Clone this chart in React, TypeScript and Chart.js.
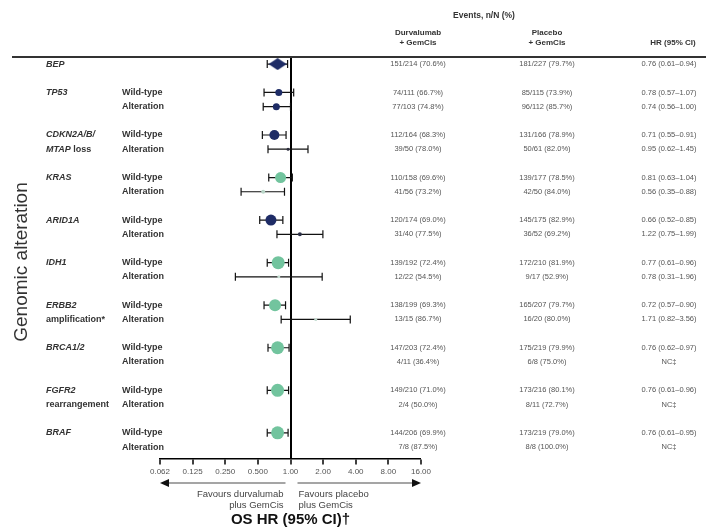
import React, { useEffect, useRef } from "react";
import { Chart, registerables } from "chart.js";
Chart.register(...registerables);

// ---------------- data ----------------
const geneNames = ["BEP", "TP53", "CDKN2A/B/", "KRAS", "ARID1A", "IDH1", "ERBB2", "BRCA1/2", "FGFR2", "BRAF"];
const geneSecondItalic = ["", "", "MTAP", "", "", "", "", "", "", ""];
const geneSecondPlain = ["", "", " loss", "", "", "", "amplification*", "", "rearrangement", ""];
const subgroupLabels = ["Wild-type", "Alteration"];

const hrValues = [0.76, 0.78, 0.74, 0.71, 0.95, 0.81, 0.56, 0.66, 1.22, 0.77, 0.78, 0.72, 1.71, 0.76, null, 0.76, null, 0.76, null];
const ciLower = [0.61, 0.57, 0.56, 0.55, 0.62, 0.63, 0.35, 0.52, 0.75, 0.61, 0.31, 0.57, 0.82, 0.62, null, 0.61, null, 0.61, null];
const ciUpper = [0.94, 1.07, 1.0, 0.91, 1.45, 1.04, 0.88, 0.85, 1.99, 0.96, 1.96, 0.9, 3.56, 0.97, null, 0.96, null, 0.95, null];

const durvaEvents = [
  "151/214 (70.6%)", "74/111 (66.7%)", "77/103 (74.8%)", "112/164 (68.3%)", "39/50 (78.0%)",
  "110/158 (69.6%)", "41/56 (73.2%)", "120/174 (69.0%)", "31/40 (77.5%)", "139/192 (72.4%)",
  "12/22 (54.5%)", "138/199 (69.3%)", "13/15 (86.7%)", "147/203 (72.4%)", "4/11 (36.4%)",
  "149/210 (71.0%)", "2/4 (50.0%)", "144/206 (69.9%)", "7/8 (87.5%)",
];
const placeboEvents = [
  "181/227 (79.7%)", "85/115 (73.9%)", "96/112 (85.7%)", "131/166 (78.9%)", "50/61 (82.0%)",
  "139/177 (78.5%)", "42/50 (84.0%)", "145/175 (82.9%)", "36/52 (69.2%)", "172/210 (81.9%)",
  "9/17 (52.9%)", "165/207 (79.7%)", "16/20 (80.0%)", "175/219 (79.9%)", "6/8 (75.0%)",
  "173/216 (80.1%)", "8/11 (72.7%)", "173/219 (79.0%)", "8/8 (100.0%)",
];
const hrLabels = [
  "0.76 (0.61–0.94)", "0.78 (0.57–1.07)", "0.74 (0.56–1.00)", "0.71 (0.55–0.91)", "0.95 (0.62–1.45)",
  "0.81 (0.63–1.04)", "0.56 (0.35–0.88)", "0.66 (0.52–0.85)", "1.22 (0.75–1.99)", "0.77 (0.61–0.96)",
  "0.78 (0.31–1.96)", "0.72 (0.57–0.90)", "1.71 (0.82–3.56)", "0.76 (0.62–0.97)", "NC‡",
  "0.76 (0.61–0.96)", "NC‡", "0.76 (0.61–0.95)", "NC‡",
];

const xTickValues = [0.0625, 0.125, 0.25, 0.5, 1, 2, 4, 8, 16];
const xTickLabels = ["0.062", "0.125", "0.250", "0.500", "1.00", "2.00", "4.00", "8.00", "16.00"];

// ---------------- styles ----------------
const NAVY = "#1e2c66";
const GREEN = "#72c49e";
const markerColors = [
  NAVY, NAVY, NAVY, NAVY, "#2a2c3c", GREEN, "#b9d6c8", NAVY, "#2b2f45", GREEN,
  "#c4dcd0", GREEN, "#c4dcd0", GREEN, GREEN, GREEN, GREEN, GREEN, GREEN,
];
const markerRadii = [8, 3.5, 3.5, 5, 1.5, 5.5, 2, 5.5, 2, 6.5, 1.5, 6, 1.5, 6.5, 0, 6.5, 0, 6.5, 0];
const FONT = "'Liberation Sans', Arial, sans-serif";

function rowSlot(i: number) {
  if (i === 0) return 0;
  const g = Math.floor((i - 1) / 2) + 1;
  return 3 * g - 1 + ((i - 1) % 2);
}
function groupSlot(g: number) {
  return g === 0 ? 0 : 3 * g - 1;
}

function makeDiamond() {
  const c = document.createElement("canvas");
  c.width = 18;
  c.height = 12;
  const x = c.getContext("2d")!;
  x.fillStyle = NAVY;
  x.beginPath();
  x.moveTo(0, 6);
  x.lineTo(9, 0);
  x.lineTo(18, 6);
  x.lineTo(9, 12);
  x.closePath();
  x.fill();
  return c;
}

const textPlugin = {
  id: "forestText",
  afterDraw(chart: any) {
    const { ctx, chartArea } = chart;
    const xs = chart.scales.x;
    const ys = chart.scales.y;
    ctx.save();
    // top rule
    ctx.strokeStyle = "#333";
    ctx.lineWidth = 2;
    ctx.beginPath();
    ctx.moveTo(12, chartArea.top);
    ctx.lineTo(706, chartArea.top);
    ctx.stroke();

    const colD = 418, colP = 547, colH = 669;
    ctx.textBaseline = "middle";
    ctx.textAlign = "center";
    ctx.fillStyle = "#333";
    ctx.font = `bold 8.5px ${FONT}`;
    ctx.fillText("Events, n/N (%)", 484, 16);
    ctx.font = `bold 8px ${FONT}`;
    ctx.fillText("Durvalumab", colD, 33);
    ctx.fillText("+ GemCis", colD, 43);
    ctx.fillText("Placebo", colP, 33);
    ctx.fillText("+ GemCis", colP, 43);
    ctx.fillText("HR (95% CI)", colH + 4, 43);

    // table rows
    ctx.font = `7.5px ${FONT}`;
    ctx.fillStyle = "#555";
    for (let i = 0; i < durvaEvents.length; i++) {
      const yy = ys.getPixelForValue(rowSlot(i));
      ctx.fillText(durvaEvents[i], colD, yy);
      ctx.fillText(placeboEvents[i], colP, yy);
      ctx.fillText(hrLabels[i], colH, yy);
    }

    // gene labels
    ctx.textAlign = "left";
    ctx.fillStyle = "#333";
    for (let g = 0; g < geneNames.length; g++) {
      const s = groupSlot(g);
      const yy = ys.getPixelForValue(s);
      ctx.font = `italic bold 9px ${FONT}`;
      ctx.fillText(geneNames[g], 46, yy);
      const y2 = ys.getPixelForValue(s + 1);
      let xx = 46;
      if (geneSecondItalic[g]) {
        ctx.font = `italic bold 9px ${FONT}`;
        ctx.fillText(geneSecondItalic[g], xx, y2);
        xx += ctx.measureText(geneSecondItalic[g]).width;
      }
      if (geneSecondPlain[g]) {
        ctx.font = `bold 9px ${FONT}`;
        ctx.fillText(geneSecondPlain[g], xx, y2);
      }
      if (g > 0) {
        ctx.font = `bold 9px ${FONT}`;
        ctx.fillText(subgroupLabels[0], 122, yy);
        ctx.fillText(subgroupLabels[1], 122, y2);
      }
    }

    // y title
    ctx.save();
    ctx.translate(22, 262);
    ctx.rotate(-Math.PI / 2);
    ctx.textAlign = "center";
    ctx.font = `19px ${FONT}`;
    ctx.fillStyle = "#333";
    ctx.fillText("Genomic alteration", 0, 0);
    ctx.restore();

    // arrows
    const x1 = xs.getPixelForValue(1);
    const ay = 483;
    ctx.strokeStyle = "#888";
    ctx.lineWidth = 1.5;
    ctx.beginPath();
    ctx.moveTo(x1 - 5, ay);
    ctx.lineTo(chartArea.left + 6, ay);
    ctx.moveTo(x1 + 7, ay);
    ctx.lineTo(chartArea.right - 6, ay);
    ctx.stroke();
    ctx.fillStyle = "#111";
    ctx.beginPath();
    ctx.moveTo(chartArea.left, ay);
    ctx.lineTo(chartArea.left + 9, ay - 4);
    ctx.lineTo(chartArea.left + 9, ay + 4);
    ctx.closePath();
    ctx.fill();
    ctx.beginPath();
    ctx.moveTo(chartArea.right, ay);
    ctx.lineTo(chartArea.right - 9, ay - 4);
    ctx.lineTo(chartArea.right - 9, ay + 4);
    ctx.closePath();
    ctx.fill();

    ctx.font = `9.5px ${FONT}`;
    ctx.fillStyle = "#444";
    ctx.textAlign = "right";
    ctx.fillText("Favours durvalumab", x1 - 7, 494);
    ctx.fillText("plus GemCis", x1 - 7, 505);
    ctx.textAlign = "left";
    ctx.fillText("Favours placebo", x1 + 8, 494);
    ctx.fillText("plus GemCis", x1 + 8, 505);
    ctx.restore();
  },
};

export default function App() {
  const ref = useRef<HTMLCanvasElement | null>(null);
  useEffect(() => {
    if (!ref.current) return;
    const diamond = makeDiamond();
    const idx = hrValues.map((v, i) => i).filter((i) => hrValues[i] != null);

    const ciSets = idx.map((i) => ({
      type: "scatter" as const,
      showLine: true,
      data: [
        { x: ciLower[i] as number, y: rowSlot(i) },
        { x: ciUpper[i] as number, y: rowSlot(i) },
      ],
      borderColor: "#111",
      borderWidth: 1.2,
      pointStyle: "line" as const,
      pointRotation: 90,
      pointRadius: 4,
      pointBorderColor: "#111",
      pointBorderWidth: 1.2,
      order: 2,
    }));

    const markerSet = {
      type: "scatter" as const,
      data: idx.map((i) => ({ x: hrValues[i] as number, y: rowSlot(i) })),
      pointBackgroundColor: idx.map((i) => markerColors[i]),
      pointRadius: idx.map((i) => markerRadii[i]),
      pointStyle: idx.map((i) => (i === 0 ? diamond : "circle")) as any,
      pointBorderWidth: 0,
      order: 0,
    };

    Chart.defaults.font.family = FONT;
    const chart = new Chart(ref.current, {
      type: "scatter",
      data: { datasets: [markerSet as any, ...(ciSets as any)] },
      options: {
        responsive: false,
        animation: false,
        devicePixelRatio: 1,
        layout: { padding: { left: 160, right: 295, top: 57, bottom: 3 } },
        plugins: { legend: { display: false }, tooltip: { enabled: false } },
        scales: {
          x: {
            type: "logarithmic",
            min: 0.0625,
            max: 16,
            afterBuildTicks: (scale: any) => {
              scale.ticks = xTickValues.map((v) => ({ value: v }));
            },
            ticks: {
              autoSkip: false,
              maxRotation: 0,
              padding: 3,
              color: "#555",
              font: { size: 8, family: FONT },
              callback: (_v: any, i: number) => xTickLabels[i],
            },
            grid: {
              drawOnChartArea: true,
              drawTicks: true,
              tickLength: 6,
              tickColor: "#000",
              tickWidth: 1.5,
              color: (c: any) => (c.tick && c.tick.value === 1 ? "#000" : "rgba(0,0,0,0)"),
              lineWidth: (c: any) => (c.tick && c.tick.value === 1 ? 2 : 0),
            },
            border: { display: true, color: "#000", width: 1.5 },
            title: {
              display: true,
              text: "OS HR (95% CI)†",
              color: "#111",
              font: { size: 15, weight: "bold", family: FONT },
              padding: { top: 31, bottom: 0 },
            },
          },
          y: {
            type: "linear",
            reverse: true,
            min: -0.5,
            max: 27.8,
            display: false,
          },
        },
      },
      plugins: [textPlugin],
    });
    return () => chart.destroy();
  }, []);

  return (
    <div style={{ position: "fixed", left: 0, top: 0, width: 716, height: 532, background: "#fff" }}>
      <canvas ref={ref} width={716} height={532} style={{ display: "block" }} />
    </div>
  );
}
